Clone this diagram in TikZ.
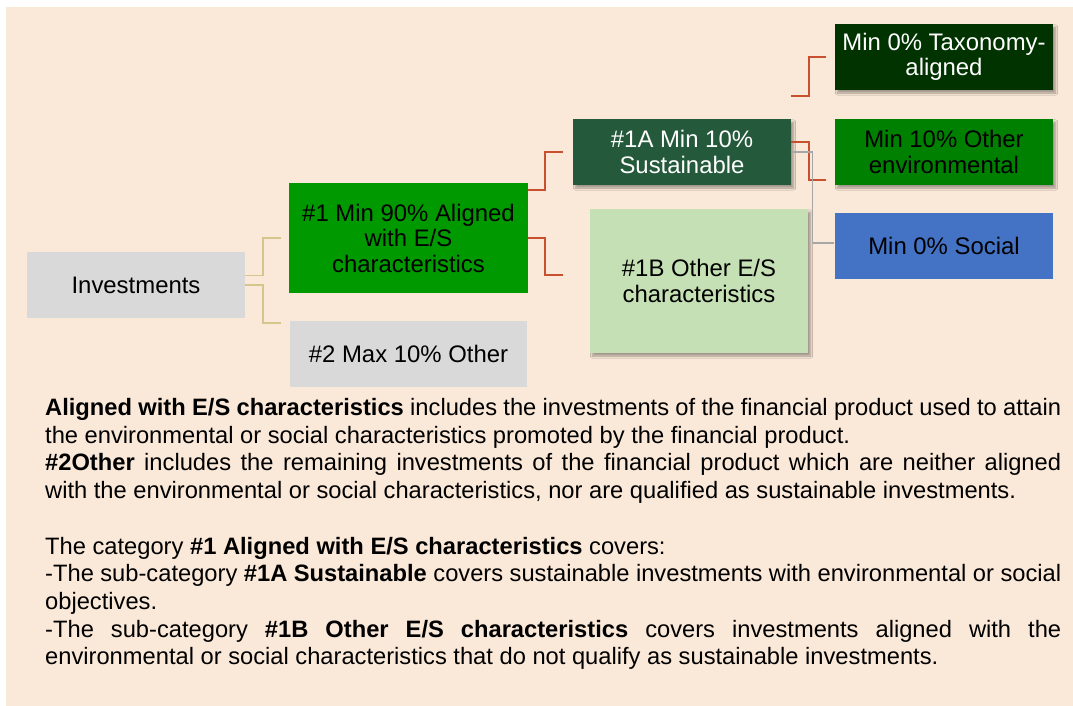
\documentclass[tikz,border=0pt]{standalone}
\usepackage{fontspec}
\setmainfont{Liberation Sans}
\usetikzlibrary{shadows.blur}
\definecolor{bg}{HTML}{FAE8D8}
\definecolor{grayb}{HTML}{D9D9D9}
\definecolor{greenA}{HTML}{009900}
\definecolor{darkS}{HTML}{245A3B}
\definecolor{lightB}{HTML}{C5E0B4}
\definecolor{taxc}{HTML}{003300}
\definecolor{envc}{HTML}{008000}
\definecolor{socc}{HTML}{4472C4}
\definecolor{tanc}{HTML}{D6C68E}
\definecolor{redc}{HTML}{C8502E}
\definecolor{grayl}{HTML}{A6A6A6}
\begin{document}
\begin{tikzpicture}[x=1pt,y=-1pt,
  box/.style={draw=none, align=center, inner sep=2pt, minimum width=218pt, minimum height=66pt,
    font=\fontsize{23.9}{25.5}\selectfont, text=black},
  sh/.style={blur shadow={shadow xshift=2.5pt, shadow yshift=-3pt, shadow blur steps=6, shadow opacity=35}},
  tanline/.style={draw=tanc, line width=1.5pt},
  redline/.style={draw=redc, line width=1.7pt},
  grayline/.style={draw=grayl, line width=1.4pt}]
\useasboundingbox (0,0) rectangle (1073,706);
\fill[bg] (6,7) rectangle (1073,706);

\node[box, fill=grayb] (inv) at (136,285) {Investments};
\node[box, fill=greenA, minimum width=239pt, minimum height=110pt] (a1) at (408.5,238) {\#1 Min 90\% Aligned\\with E/S\\characteristics};
\node[box, fill=grayb, minimum width=237pt] (a2) at (408.5,354) {\#2 Max 10\% Other};
\node[box, fill=darkS, text=white, sh] (s1a) at (682,152) {\#1A Min 10\%\\Sustainable};
\node[box, fill=lightB, minimum height=144pt, sh] (s1b) at (699,281) {\#1B Other E/S\\characteristics};
\node[box, fill=taxc, text=white, sh] (tax) at (944,57) {Min 0\% Taxonomy-\\aligned};
\node[box, fill=envc, sh] (env) at (944,152) {Min 10\% Other\\environmental};
\node[box, fill=socc] (soc) at (944,246) {Min 0\% Social};

\draw[tanline] ([yshift=9.3pt]inv.east) -- ++(18pt,0) |- ([xshift=-8pt]a1.west);
\draw[tanline] (inv.east) -- ++(18pt,0) |- ([xshift=-9pt,yshift=31pt]a2.west);
\draw[redline] ([yshift=48pt]a1.east) -- ++(17pt,0) |- ([xshift=-10pt]s1a.west);
\draw[redline] (a1.east) -- ++(17pt,0) |- ([xshift=-27pt,yshift=6pt]s1b.west);
\draw[redline] ([yshift=56pt]s1a.east) -- ++(18pt,0) |- ([xshift=-9pt]tax.west);
\draw[redline] ([yshift=10pt]s1a.east) -- ++(18pt,0) |- ([xshift=-9pt,yshift=-28pt]env.west);
\draw[grayline] (s1a.east) -- ++(21pt,0) |- ([xshift=-1pt,yshift=3pt]soc.west);

\node[anchor=base west, text width=1016pt, align=justify, inner sep=0pt,
  font=\fontsize{23.7}{27.7}\selectfont] (txt) at (45,415.5) {%
\textbf{Aligned with E/S characteristics} includes the investments of the financial product used to attain\linebreak
the environmental or social characteristics promoted by the financial product.\par
\textbf{\#2Other} includes the remaining investments of the financial product which are neither aligned\linebreak
with the environmental or social characteristics, nor are qualified as sustainable investments.\par
\null\par
The category \textbf{\#1 Aligned with E/S characteristics} covers:\par
-The sub-category \textbf{\#1A Sustainable} covers sustainable investments with environmental or social\linebreak
objectives.\par
-The sub-category \textbf{\#1B Other E/S characteristics} covers investments aligned with the\linebreak
environmental or social characteristics that do not qualify as sustainable investments.\par};
\end{tikzpicture}
\end{document}
